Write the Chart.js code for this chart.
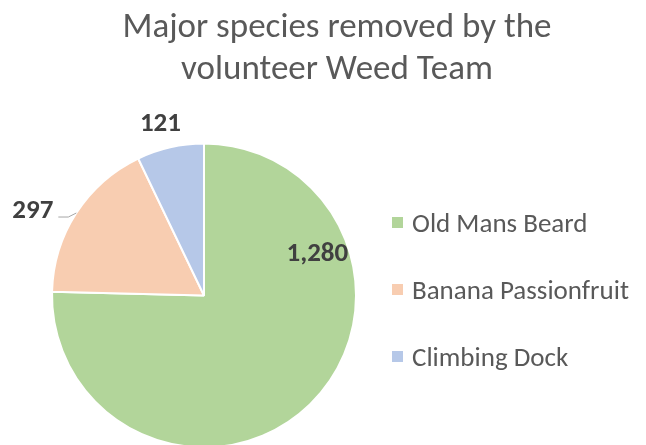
<!DOCTYPE html>
<html>
<head>
<meta charset="utf-8">
<script src="https://cdn.jsdelivr.net/npm/chart.js@4"></script>
<style>
  html, body { margin: 0; padding: 0; background: #fff; overflow: hidden; }
  .graph { width: 646px; height: 460px; position: relative; }
</style>
</head>
<body>
<div class="graph"><canvas id="weed--chart"></canvas></div>
<script>
"use strict";

const titleLines = ['Major species removed by the', 'volunteer Weed Team'];
const species = ['Old Mans Beard', 'Banana Passionfruit', 'Climbing Dock'];
const removed = [1280, 297, 121];
const colours = ['#b2d59a', '#f8cdb1', '#b6c8e8'];

const FONT = 'Carlito, Calibri, Lato, sans-serif';

// title, data labels and legend drawn on top of the pie
const decorations = {
    id: 'decorations',
    afterDraw(chart) {
        const ctx = chart.ctx;
        const meta = chart.getDatasetMeta(0);
        ctx.save();

        // title
        ctx.fillStyle = '#595959';
        ctx.font = '35px ' + FONT;
        ctx.textAlign = 'center';
        ctx.textBaseline = 'alphabetic';
        ctx.fillText(titleLines[0], 337, 37);
        ctx.fillText(titleLines[1], 337, 79);

        // data labels
        ctx.font = 'bold 27px ' + FONT;
        ctx.fillStyle = '#404040';
        meta.data.forEach((arc, i) => {
            const p = arc.getProps(['x', 'y', 'startAngle', 'endAngle', 'outerRadius'], true);
            const text = removed[i].toLocaleString('en-US');
            const mid = (p.startAngle + p.endAngle) / 2;
            if (i === 0) {
                // sits inside the big slice, near its upper right edge
                const a = -0.37;
                ctx.fillText(text, p.x + Math.cos(a) * p.outerRadius * 0.80, p.y + Math.sin(a) * p.outerRadius * 0.80 + 9);
            } else if (i === 1) {
                const ex = p.x + Math.cos(mid) * p.outerRadius;
                const ey = p.y + Math.sin(mid) * p.outerRadius;
                ctx.strokeStyle = '#a6a6a6';
                ctx.lineWidth = 1;
                ctx.beginPath();
                ctx.moveTo(ex, ey);
                ctx.lineTo(ex - 8, ey + 4);
                ctx.lineTo(ex - 18, ey + 4);
                ctx.stroke();
                ctx.textAlign = 'right';
                ctx.fillText(text, ex - 23, ey + 5);
                ctx.textAlign = 'center';
            } else {
                const a = mid - 0.035;
                ctx.fillText(text, p.x + Math.cos(a) * p.outerRadius * 1.12, p.y + Math.sin(a) * p.outerRadius * 1.12);
            }
        });

        // legend
        ctx.font = '27px ' + FONT;
        ctx.textAlign = 'left';
        ctx.textBaseline = 'alphabetic';
        species.forEach((name, i) => {
            const y = 222 + i * 67;
            ctx.fillStyle = colours[i];
            ctx.fillRect(392, y - 5, 11, 11);
            ctx.fillStyle = '#595959';
            ctx.fillText(name, 412, y + 10);
        });

        ctx.restore();
    }
};

const ctx = document.getElementById('weed--chart').getContext('2d');

new Chart(ctx, {
    type: 'pie',
    data: {
        labels: species,
        datasets: [{
            data: removed,
            backgroundColor: colours,
            borderColor: '#ffffff',
            borderWidth: 2
        }]
    },
    options: {
        responsive: true,
        maintainAspectRatio: false,
        animation: false,
        layout: {
            padding: { top: 142, left: 51, right: 289, bottom: 11 }
        },
        plugins: {
            legend: { display: false },
            title: { display: false },
            tooltip: { enabled: false }
        }
    },
    plugins: [decorations]
});
</script>
</body>
</html>
